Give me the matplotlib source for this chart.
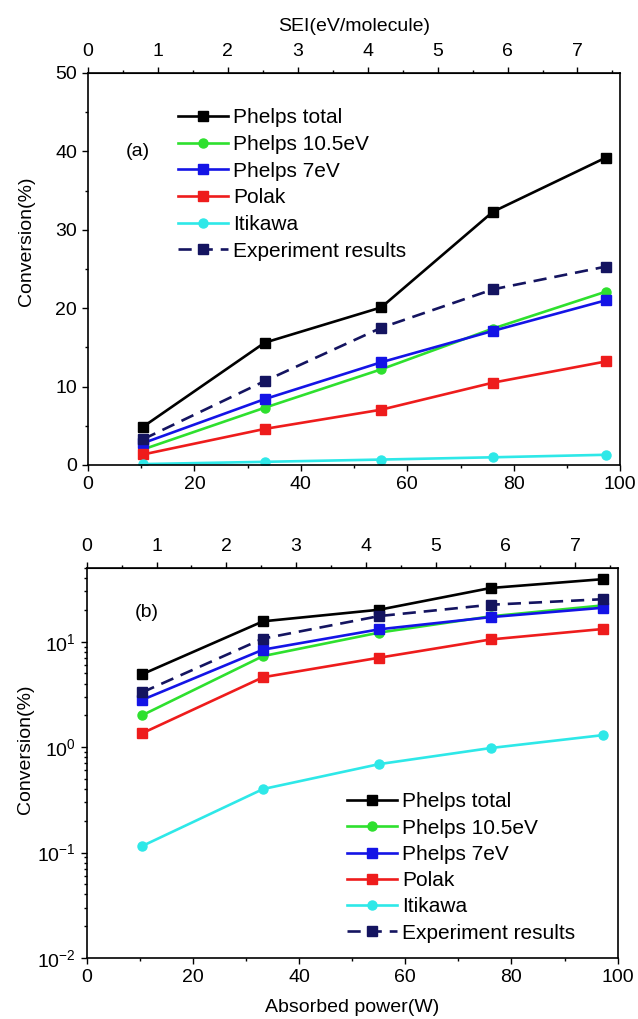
import matplotlib
matplotlib.use('Agg')
import matplotlib.pyplot as plt
from matplotlib.ticker import MultipleLocator, FixedLocator, LogLocator, NullFormatter

plt.rcParams['font.family'] = ['Liberation Sans', 'DejaVu Sans']

# Data
power = [10.4, 33.2, 55.1, 76.1, 97.3]          # absorbed power (W)
phelps_total = [4.9, 15.6, 20.1, 32.3, 39.2]
phelps_105 = [2.0, 7.3, 12.2, 17.4, 22.1]
phelps_7 = [2.8, 8.4, 13.1, 17.1, 21.0]
polak = [1.35, 4.6, 7.05, 10.5, 13.2]
itikawa = [0.115, 0.40, 0.69, 0.98, 1.30]
experiment = [3.3, 10.7, 17.5, 22.4, 25.3]
sei_per_watt = 7.61 / 100.0                      # SEI(eV/molecule) per W
sei_ticks = [0, 1, 2, 3, 4, 5, 6, 7]

labels = ['Phelps total', 'Phelps 10.5eV', 'Phelps 7eV', 'Polak', 'Itikawa',
          'Experiment results']
series = [phelps_total, phelps_105, phelps_7, polak, itikawa, experiment]
colors = ['#000000', '#2ee02e', '#1414e6', '#ee1c1c', '#2ee8e8', '#141460']
markers = ['s', 'o', 's', 's', 'o', 's']
styles = ['-', '-', '-', '-', '-', (0, (5, 3))]

fs = 14
lfs = 15

def draw_panel(ax, ylab_y):
    for y, lab, c, m, ls in zip(series, labels, colors, markers, styles):
        ax.plot(power, y, color=c, marker=m, markersize=6.5, linestyle=ls,
                linewidth=1.9, label=lab)
    ax.set_xlim(0, 100)
    ax.xaxis.set_major_locator(MultipleLocator(20))
    ax.xaxis.set_minor_locator(MultipleLocator(10))
    ax.tick_params(which='both', direction='out', right=False, top=False,
                   labelsize=fs, width=1)
    ax.tick_params(which='major', length=4, pad=4)
    ax.tick_params(which='minor', length=2.5)
    ax.set_ylabel('Conversion(%)', fontsize=fs)
    sec = ax.secondary_xaxis('top', functions=(lambda w: w * sei_per_watt,
                                               lambda s: s / sei_per_watt))
    sec.xaxis.set_major_locator(FixedLocator(sei_ticks))
    sec.xaxis.set_minor_locator(FixedLocator([t + 0.5 for t in sei_ticks]))
    sec.tick_params(which='both', direction='out', labelsize=fs, width=1)
    sec.tick_params(which='major', length=4, pad=5)
    sec.tick_params(which='minor', length=2.5)
    for sp in ax.spines.values():
        sp.set_linewidth(1.2)
    ax.yaxis.set_label_coords(-0.10, ylab_y)
    return sec

fig = plt.figure(figsize=(6.38, 10.19), dpi=100)

# Panel (a): linear scale
ax1 = fig.add_axes([0.138, 0.5437, 0.834, 0.3847])
sec1 = draw_panel(ax1, 0.57)
ax1.set_ylim(0, 50)
ax1.yaxis.set_major_locator(MultipleLocator(10))
ax1.yaxis.set_minor_locator(MultipleLocator(5))
sec1.set_xlabel('SEI(eV/molecule)', fontsize=fs, labelpad=9)
ax1.text(0.07, 0.80, '(a)', transform=ax1.transAxes, fontsize=fs,
         va='center', ha='left')
ax1.legend(loc='upper left', bbox_to_anchor=(0.169, 0.91), frameon=False,
           fontsize=lfs, handlelength=2.4, handletextpad=0.25, labelspacing=0.37,
           borderpad=0, borderaxespad=0)

# Panel (b): log scale
ax2 = fig.add_axes([0.136, 0.0599, 0.832, 0.3827])
draw_panel(ax2, 0.536)
ax2.set_yscale('log')
ax2.set_ylim(0.01, 50)
ax2.yaxis.set_major_locator(LogLocator(base=10, numticks=10))
ax2.yaxis.set_minor_locator(LogLocator(base=10, subs=range(2, 10), numticks=20))
ax2.yaxis.set_minor_formatter(NullFormatter())
ax2.set_xlabel('Absorbed power(W)', fontsize=fs, labelpad=9)
ax2.text(0.09, 0.887, '(b)', transform=ax2.transAxes, fontsize=fs,
         va='center', ha='left')
ax2.legend(loc='upper left', bbox_to_anchor=(0.49, 0.425), frameon=False,
           fontsize=lfs, handlelength=2.4, handletextpad=0.25, labelspacing=0.35,
           borderpad=0, borderaxespad=0)

fig.savefig('out.png', dpi=100)
